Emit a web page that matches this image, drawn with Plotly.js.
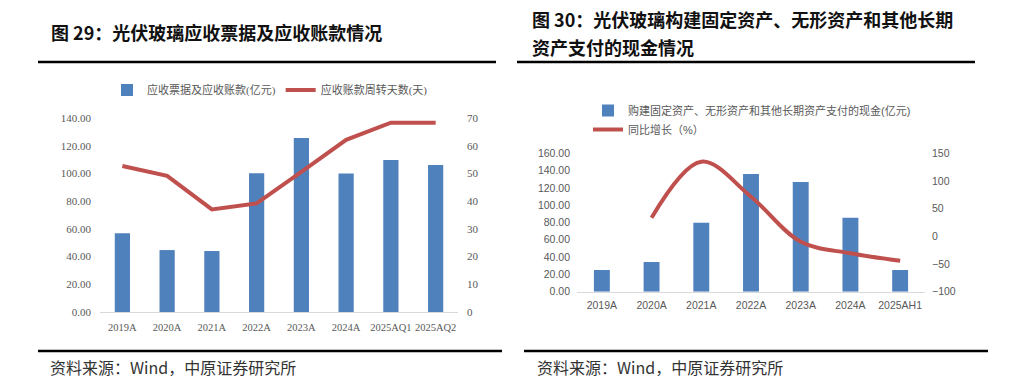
<!DOCTYPE html>
<html>
<head>
<meta charset="utf-8">
<script src="https://cdn.plot.ly/plotly-3.0.1.min.js"></script>
<style>
html,body{margin:0;padding:0;background:#fff;}
#chart{width:1031px;height:385px;}
</style>
</head>
<body>
<div id="chart"></div>
<script>
// ---- Figure 29 data ----
const cats29 = ['2019A','2020A','2021A','2022A','2023A','2024A','2025AQ1','2025AQ2'];
const receivables29 = [56.8, 44.7, 44.0, 100.1, 125.6, 100.0, 109.7, 106.0];
const turnoverDays29 = [52.7, 49.1, 37.0, 39.2, 50.6, 62.1, 68.3, 68.3];
const ticks29Left = [0, 20, 40, 60, 80, 100, 120, 140];
const ticks29Right = [0, 10, 20, 30, 40, 50, 60, 70];

// ---- Figure 30 data ----
const cats30 = ['2019A','2020A','2021A','2022A','2023A','2024A','2025AH1'];
const capex30 = [25.1, 34.3, 79.8, 136.0, 126.8, 85.5, 25.1];
const growth30 = [null, 33.7, 134.8, 71.6, -9.7, -30.6, -44.0];
const ticks30Left = [0, 20, 40, 60, 80, 100, 120, 140, 160];
const ticks30Right = [-100, -50, 0, 50, 100, 150];

const W = 1031, H = 385;
const px = v => v / W;
const py = v => 1 - v / H;

const BLUE = '#4F81BD';
const RED = '#C0504D';
const GREY = '#595959';
const serifFont = {family: '"Liberation Serif", "Noto Sans CJK SC", serif', size: 11, color: GREY};
const serifFontX = {family: '"Liberation Serif", "Noto Sans CJK SC", serif', size: 10.5, color: GREY};
const sansFont = {family: '"Liberation Sans", "Noto Sans CJK SC", sans-serif', size: 10.5, color: GREY};
const cjk = '"Noto Sans CJK SC", sans-serif';

const traces = [
  {type: 'bar', x: cats29, y: receivables29, xaxis: 'x', yaxis: 'y',
   name: '应收票据及应收账款(亿元)', marker: {color: BLUE}, width: 0.34, legend: 'legend'},
  {type: 'scatter', mode: 'lines', x: cats29, y: turnoverDays29, xaxis: 'x', yaxis: 'y2',
   name: '应收账款周转天数(天)', line: {color: RED, width: 4}, legend: 'legend'},
  {type: 'bar', x: cats30, y: capex30, xaxis: 'x2', yaxis: 'y3',
   name: '购建固定资产、无形资产和其他长期资产支付的现金(亿元)', marker: {color: BLUE}, width: 0.32, legend: 'legend2'},
  {type: 'scatter', mode: 'lines', x: cats30, y: growth30, xaxis: 'x2', yaxis: 'y4',
   name: '同比增长（%）', line: {color: RED, width: 4, shape: 'spline', smoothing: 1}, connectgaps: false, legend: 'legend2'}
];

const layout = {
  width: W, height: H,
  margin: {l: 0, r: 0, t: 0, b: 0},
  paper_bgcolor: '#fff', plot_bgcolor: 'rgba(0,0,0,0)',
  showlegend: true,
  hovermode: false,
  xaxis: {domain: [px(100), px(458)], anchor: 'y', type: 'category', showline: true, linecolor: '#d9d9d9', linewidth: 1,
          ticks: '', tickangle: 0, showgrid: false, zeroline: false, tickfont: serifFontX, ticklabelstandoff: 5},
  yaxis: {domain: [py(312), py(118)], anchor: 'x', range: [0, 140], tickvals: ticks29Left, tickformat: '.2f',
          showgrid: false, zeroline: false, showline: false, ticks: '', tickfont: serifFont, ticklabelstandoff: 8},
  yaxis2: {overlaying: 'y', side: 'right', anchor: 'x', range: [0, 70], tickvals: ticks29Right,
           showgrid: false, zeroline: false, showline: false, ticks: '', tickfont: serifFont, ticklabelstandoff: 8},
  xaxis2: {domain: [px(577), px(925)], anchor: 'y3', type: 'category', showline: true, linecolor: '#d9d9d9', linewidth: 1,
           ticks: '', tickangle: 0, showgrid: false, zeroline: false, tickfont: sansFont, ticklabelstandoff: 4},
  yaxis3: {domain: [py(291.7), py(153.3)], anchor: 'x2', range: [0, 160], tickvals: ticks30Left, tickformat: '.2f',
           showgrid: false, zeroline: false, showline: false, ticks: '', tickfont: sansFont, ticklabelstandoff: 6},
  yaxis4: {overlaying: 'y3', side: 'right', anchor: 'x2', range: [-100, 150], tickvals: ticks30Right,
           showgrid: false, zeroline: false, showline: false, ticks: '', tickfont: sansFont, ticklabelstandoff: 6},
  legend: {orientation: 'h', x: px(107), xanchor: 'left', y: py(90), yanchor: 'middle',
           font: {family: '"Liberation Serif", "Noto Sans CJK SC", serif', size: 11, color: GREY},
           bgcolor: 'rgba(0,0,0,0)', itemclick: false, itemdoubleclick: false},
  legend2: {orientation: 'v', x: px(588), xanchor: 'left', y: py(96), yanchor: 'top',
            font: {family: '"Liberation Sans", "Noto Sans CJK SC", sans-serif', size: 11, color: GREY},
            bgcolor: 'rgba(0,0,0,0)', itemclick: false, itemdoubleclick: false, tracegroupgap: 0},
  annotations: [
    {xref: 'paper', yref: 'paper', x: px(49), y: py(32), xanchor: 'left', yanchor: 'middle', showarrow: false,
     text: '<b>图 29：光伏玻璃应收票据及应收账款情况</b>', font: {family: cjk, size: 18, color: '#111'}},
    {xref: 'paper', yref: 'paper', x: px(530), y: py(19), xanchor: 'left', yanchor: 'middle', showarrow: false,
     text: '<b>图 30：光伏玻璃构建固定资产、无形资产和其他长期</b>', font: {family: cjk, size: 18, color: '#111'}},
    {xref: 'paper', yref: 'paper', x: px(530), y: py(47), xanchor: 'left', yanchor: 'middle', showarrow: false,
     text: '<b>资产支付的现金情况</b>', font: {family: cjk, size: 18, color: '#111'}},
    {xref: 'paper', yref: 'paper', x: px(48), y: py(367), xanchor: 'left', yanchor: 'middle', showarrow: false,
     text: '资料来源：Wind，中原证券研究所', font: {family: cjk, size: 16, color: '#333'}},
    {xref: 'paper', yref: 'paper', x: px(535), y: py(367), xanchor: 'left', yanchor: 'middle', showarrow: false,
     text: '资料来源：Wind，中原证券研究所', font: {family: cjk, size: 16, color: '#333'}}
  ],
  shapes: [
    {type: 'line', xref: 'paper', yref: 'paper', x0: px(38), x1: px(496), y0: py(62), y1: py(62), line: {color: '#000', width: 2.5}},
    {type: 'line', xref: 'paper', yref: 'paper', x0: px(517), x1: px(975), y0: py(62), y1: py(62), line: {color: '#000', width: 2.5}},
    {type: 'line', xref: 'paper', yref: 'paper', x0: px(38), x1: px(502), y0: py(351), y1: py(351), line: {color: '#000', width: 2.5}},
    {type: 'line', xref: 'paper', yref: 'paper', x0: px(524), x1: px(988), y0: py(351), y1: py(351), line: {color: '#000', width: 2.5}}
  ]
};

Plotly.newPlot('chart', traces, layout, {displayModeBar: false, staticPlot: true});
</script>
</body>
</html>
